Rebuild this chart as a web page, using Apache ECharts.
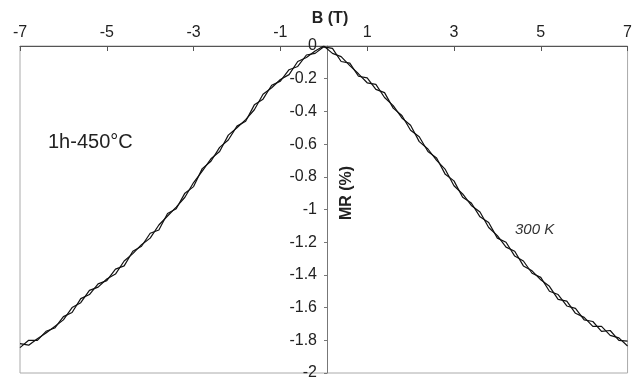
<!DOCTYPE html>
<html>
<head>
<meta charset="utf-8">
<script src="https://cdn.jsdelivr.net/npm/echarts@6/dist/echarts.min.js"></script>
<style>html,body{margin:0;padding:0;background:#fff}#c{width:635px;height:381px}</style>
</head>
<body>
<div id="c"></div>
<script>
// Magnetic field B (T)
const fieldT = [-7.0,-6.8,-6.6,-6.4,-6.2,-6.0,-5.8,-5.6,-5.4,-5.2,-5.0,-4.8,-4.6,-4.4,-4.2,-4.0,-3.8,-3.6,-3.4,-3.2,-3.0,-2.8,-2.6,-2.4,-2.2,-2.0,-1.8,-1.6,-1.4,-1.2,-1.0,-0.8,-0.6,-0.4,-0.2,0.0,0.2,0.4,0.6,0.8,1.0,1.2,1.4,1.6,1.8,2.0,2.2,2.4,2.6,2.8,3.0,3.2,3.4,3.6,3.8,4.0,4.2,4.4,4.6,4.8,5.0,5.2,5.4,5.6,5.8,6.0,6.2,6.4,6.6,6.8,7.0];
// MR (%) sweep 1
const mrSweepUp = [-1.845,-1.80,-1.80,-1.745,-1.725,-1.655,-1.63,-1.545,-1.52,-1.455,-1.435,-1.365,-1.345,-1.255,-1.225,-1.145,-1.125,-1.025,-0.995,-0.90,-0.86,-0.75,-0.705,-0.62,-0.575,-0.49,-0.46,-0.36,-0.325,-0.24,-0.215,-0.145,-0.125,-0.055,-0.045,-0.005,-0.015,-0.095,-0.105,-0.185,-0.195,-0.265,-0.285,-0.38,-0.425,-0.515,-0.555,-0.645,-0.685,-0.785,-0.825,-0.925,-0.96,-1.045,-1.08,-1.175,-1.20,-1.285,-1.315,-1.39,-1.415,-1.50,-1.52,-1.59,-1.605,-1.675,-1.685,-1.745,-1.74,-1.80,-1.805];
// MR (%) sweep 2
const mrSweepDown = [-1.82,-1.83,-1.79,-1.755,-1.715,-1.675,-1.60,-1.57,-1.495,-1.475,-1.425,-1.395,-1.315,-1.27,-1.215,-1.175,-1.095,-1.04,-0.985,-0.925,-0.835,-0.765,-0.69,-0.645,-0.545,-0.50,-0.45,-0.39,-0.295,-0.255,-0.205,-0.175,-0.095,-0.07,-0.03,0.0,-0.045,-0.065,-0.12,-0.17,-0.225,-0.235,-0.315,-0.365,-0.44,-0.485,-0.585,-0.63,-0.70,-0.755,-0.855,-0.905,-0.975,-1.015,-1.11,-1.16,-1.23,-1.255,-1.345,-1.375,-1.43,-1.47,-1.55,-1.56,-1.635,-1.66,-1.715,-1.715,-1.77,-1.785,-1.835];
// Axis ticks
const xTicks = {min: -7, max: 7, step: 2};
const yTicks = {min: -2, max: 0, step: 0.2};

const font = '"Liberation Sans", Arial, sans-serif';
const chart = echarts.init(document.getElementById('c'), null, {renderer: 'canvas'});
const pairs = arr => fieldT.map((b, i) => [b, arr[i]]);
const gridLeft = 20, gridRight = 1, W = 635;
// pixel distance from grid left to B = 0 (grid spans min..max)
const zeroOffset = (W - gridLeft - gridRight) * (0 - xTicks.min) / (xTicks.max - xTicks.min);
chart.setOption({
  animation: false,
  backgroundColor: '#fff',
  grid: {left: gridLeft, right: gridRight, top: 46, bottom: 6, show: true, borderColor: '#aaa', borderWidth: 1},
  xAxis: {
    type: 'value', position: 'top', min: xTicks.min, max: xTicks.max, interval: xTicks.step,
    axisLine: {onZero: false, lineStyle: {color: '#555', width: 1}},
    axisTick: {inside: true, length: 5, lineStyle: {color: '#555'}},
    axisLabel: {margin: 5, fontFamily: font, fontSize: 16, color: '#222'},
    splitLine: {show: false}
  },
  yAxis: {
    type: 'value', position: 'left', offset: -zeroOffset,
    min: yTicks.min, max: yTicks.max, interval: yTicks.step,
    axisLine: {onZero: false, lineStyle: {color: '#777', width: 1}},
    axisTick: {inside: false, length: 3, lineStyle: {color: '#777'}},
    axisLabel: {margin: 10, fontFamily: font, fontSize: 16, color: '#222'},
    splitLine: {show: false}
  },
  graphic: [
    {type: 'text', x: 330, y: 19,
     style: {text: 'B (T)', fontFamily: font, fontSize: 16, fontWeight: 'bold', fill: '#222', align: 'center', verticalAlign: 'middle'}},
    {type: 'text', x: 347, y: 193, rotation: Math.PI / 2,
     style: {text: 'MR (%)', fontFamily: font, fontSize: 16, fontWeight: 'bold', fill: '#222', align: 'center', verticalAlign: 'middle'}},
    {type: 'text', x: 48, y: 142,
     style: {text: '1h-450°C', fontFamily: font, fontSize: 20, fill: '#222', align: 'left', verticalAlign: 'middle'}},
    {type: 'text', x: 515, y: 230,
     style: {text: '300 K', fontFamily: font, fontSize: 15, fontStyle: 'italic', fill: '#333', align: 'left', verticalAlign: 'middle'}}
  ],
  series: [
    {type: 'line', data: pairs(mrSweepUp), showSymbol: false, lineStyle: {color: '#111', width: 1.2}},
    {type: 'line', data: pairs(mrSweepDown), showSymbol: false, lineStyle: {color: '#111', width: 1.2}}
  ]
});
</script>
</body>
</html>
